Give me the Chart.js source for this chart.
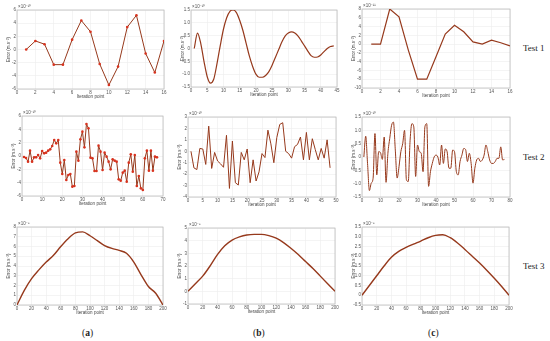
<!DOCTYPE html>
<html><head><meta charset="utf-8">
<script src="https://cdn.jsdelivr.net/npm/chart.js@4.4.0/dist/chart.umd.min.js"></script>
<style>
html,body{margin:0;padding:0;background:#fff;width:550px;height:341px;overflow:hidden;position:relative;}
canvas{position:absolute;}
.lbl{position:absolute;font-family:"Liberation Serif",serif;color:#222;white-space:nowrap;line-height:1;}
</style></head><body>
<div class="lbl" style="left:523px;top:44px;font-size:9px;">Test 1</div>
<div class="lbl" style="left:523px;top:153px;font-size:9px;">Test 2</div>
<div class="lbl" style="left:523px;top:262px;font-size:9px;">Test 3</div>
<div class="lbl" style="left:82px;top:329px;font-size:9.5px;">(<b>a</b>)</div>
<div class="lbl" style="left:253px;top:329px;font-size:9.5px;">(<b>b</b>)</div>
<div class="lbl" style="left:428px;top:329px;font-size:9.5px;">(<b>c</b>)</div>
<script>
// ---- Data ----
const test1A = [0, 1.3, 0.8, -2.3, -2.3, 1.5, 4.4, 2.7, -2.2, -5.4, -2.6, 3.4, 5.2, -0.6, -3.5, 1.3];
const test1B = [0.0,0.6,0.2,-0.5,-1.1,-1.35,-1.2,-0.6,0.1,0.75,1.2,1.45,1.5,1.4,1.1,0.7,0.2,-0.3,-0.7,-1.0,-1.12,-1.12,-1.05,-0.9,-0.65,-0.35,-0.05,0.25,0.48,0.6,0.65,0.6,0.48,0.3,0.1,-0.1,-0.28,-0.34,-0.33,-0.25,-0.12,0.0,0.08,0.1];
const test1C = [0, 0, 8, 6.2, -1.3, -8, -8, -2.9, 2.3, 4.3, 2.8, 0.5, 0, 0.9, 0.3, -0.4];
const test2A = [-0.15,-0.3,-0.85,0.8,-0.85,-0.2,-0.2,0.15,-0.35,0.75,0.4,0.5,0.8,1.0,1.5,2.4,1.9,2.4,-1.0,-2.7,-0.6,-3.6,-2.85,-2.7,-4.6,-4.5,0.65,-0.7,2.5,3.65,1.3,4.8,4.15,-0.25,-0.35,-2.25,-2.25,1.55,0.65,-2.1,0.5,-0.1,-0.85,-2.0,-0.5,-0.7,-0.85,-3.5,-3.7,-2.5,-2.2,-3.85,-1.0,0.25,-2.35,0.15,-4.5,-3.0,-4.85,-5.1,-0.35,0.8,-2.2,0.8,-2.2,-0.1,-0.2];
const test2B = [0,-1.45,-1.6,0.25,0.2,-1.15,2.2,-1.5,-0.1,-0.85,-1.1,-1.4,1.4,-3.25,0.9,-2.75,-2.95,-0.1,-0.75,0.2,-2.75,-0.75,-2.6,-1.8,-0.2,-0.55,1.85,0.65,-1.0,1.2,2.35,2.5,0.0,-0.2,-0.6,0.4,0.6,1.25,-0.75,1.65,-0.75,1.1,0.15,-0.75,0.25,-0.6,1.0,-1.45];
const test2C = [0,0.78,-0.25,-1.26,-0.98,-0.8,0.88,-0.67,0.2,0.16,-0.09,0.75,-0.95,0.14,0.7,1.19,1.31,0.26,-0.79,-0.36,0.2,0.5,1.0,-0.85,-0.92,0.63,1.25,1.13,-0.73,0.45,0.2,0.14,-0.55,1.13,1.25,-1.1,-0.55,-0.24,0,0.07,0,-0.3,0.45,-0.24,0.3,0.2,-0.42,-0.42,0.26,0.2,-0.55,-0.67,-0.17,0.07,0.32,0.28,-0.17,0.14,-0.24,-0.98,-0.42,-0.11,-0.05,-0.17,-0.11,0.07,0.45,0.2,-0.11,-0.24,-0.24,-0.17,-0.05,-0.05,0.38,-0.11,-0.09];
const iter3 = [0,10,20,30,40,50,60,70,80,90,100,110,120,130,140,150,160,170,180,190,200];
const test3A = [0,1.5,2.7,3.6,4.4,5.1,6.0,6.8,7.4,7.5,7.1,6.6,6.1,5.8,5.6,5.3,4.4,3.1,1.9,1.2,0];
const test3B = [0,0.6,1.2,2.0,2.9,3.6,4.05,4.3,4.45,4.5,4.5,4.4,4.2,3.85,3.4,2.9,2.35,1.8,1.2,0.6,0];
const test3C = [0,0.5,1.0,1.5,1.95,2.25,2.45,2.62,2.78,2.95,3.07,3.1,2.95,2.68,2.35,2.0,1.65,1.27,0.87,0.45,0];

const LINE = '#96391c';
const framePlugin = {
  id:'frame',
  beforeDatasetsDraw(chart){
    const {ctx, chartArea:a} = chart;
    ctx.save();
    ctx.strokeStyle='#bdbdbd'; ctx.lineWidth=0.8;
    ctx.strokeRect(a.left, a.top, a.right-a.left, a.bottom-a.top);
    ctx.restore();
  },
  afterDraw(chart, args, opts){
    const {ctx, chartArea:a} = chart;
    ctx.save();
    ctx.fillStyle='#555'; ctx.font='4.5px "Liberation Sans"';
    ctx.textBaseline='bottom';
    ctx.fillText(opts.exp, a.left+1, a.top-0.5);
    ctx.restore();
  }
};

function make(box, xs, ys, o){
  const [L,T,R,B] = box;
  const padTop = 6, padRight = 5, yW = 11, xH = 10;
  const c = document.createElement('canvas');
  const w = (R-L)+yW+padRight, h = (B-T)+padTop+xH;
  c.width = w; c.height = h;
  c.style.left = (L-yW)+'px'; c.style.top = (T-padTop)+'px';
  c.style.width = w+'px'; c.style.height = h+'px';
  document.body.appendChild(c);
  const tickFont = {family:'"Liberation Sans"', size:4.5};
  new Chart(c, {
    type:'line',
    data:{datasets:[{
      data: xs.map((x,i)=>({x:x, y:ys[i]})),
      borderColor: LINE, borderWidth: o.bw||1,
      pointRadius: o.markers?1.3:0, pointBackgroundColor:'#d8321e', pointBorderWidth:0,
      tension: o.tension||0, cubicInterpolationMode: o.mono?'monotone':'default', fill:false
    }]},
    options:{
      responsive:false, animation:false, devicePixelRatio:1,
      layout:{padding:{top:padTop,right:padRight,left:0,bottom:0}},
      plugins:{legend:{display:false}, tooltip:{enabled:false}, frame:{exp:o.exp}},
      scales:{
        x:{type:'linear', min:o.x[0], max:o.x[1],
          afterFit(s){ s.height = xH; },
          ticks:{stepSize:o.x[2], font:tickFont, color:'#555', padding:1, maxRotation:0, autoSkip:false},
          grid:{color:'#ececec', drawTicks:false, lineWidth:0.6}, border:{display:false},
          title:{display:true, text:'Iteration point', font:tickFont, color:'#444', padding:0}},
        y:{type:'linear', min:o.y[0], max:o.y[1],
          afterFit(s){ s.width = yW; },
          ticks:{stepSize:o.y[2], font:tickFont, color:'#555', padding:1, autoSkip:false},
          grid:{color:'#ececec', drawTicks:false, lineWidth:0.6}, border:{display:false},
          title:{display:true, text:'Error (m.s\u207B\u00B2)', font:tickFont, color:'#444', padding:0}}
      }
    },
    plugins:[framePlugin]
  });
}
const idx = arr => arr.map((v,i)=>i+1);

make([17,10,164,89], idx(test1A), test1A, {x:[0,16,2], y:[-6,6,2], exp:'\u00D710\u207B\u00B9\u2070', markers:true});
make([191,10,337,87], idx(test1B), test1B, {x:[0,45,5], y:[-1.5,1.5,0.5], exp:'\u00D710\u207B\u00B9\u2070', mono:true, bw:1.2});
make([362,9,510,88], idx(test1C), test1C, {x:[0,16,2], y:[-10,8,2], exp:'\u00D710\u207B\u00B9\u00B9', bw:1.2});
make([22,116,163,196], idx(test2A), test2A, {x:[0,70,10], y:[-6,6,2], exp:'\u00D710\u207B\u00B9\u2070', markers:true});
make([188,117,336,197], idx(test2B), test2B, {x:[0,50,5], y:[-4,3,1], exp:'\u00D710\u207B\u00B9\u2070'});
make([362,117,510,197], idx(test2C), test2C, {x:[0,80,10], y:[-1.5,1.5,0.5], exp:'\u00D710\u207B\u00B9\u2070', mono:true});
make([17,227,163,305], iter3, test3A, {x:[0,200,20], y:[0,8,1], exp:'\u00D710\u207B\u2079', mono:true, bw:1.4});
make([188,228,335,304], iter3, test3B, {x:[0,200,20], y:[-1,5,1], exp:'\u00D710\u207B\u2079', mono:true, bw:1.4});
make([362,227,509,305], iter3, test3C, {x:[0,200,20], y:[-0.5,3.5,0.5], exp:'\u00D710\u207B\u2079', mono:true, bw:1.4});
</script>
</body></html>
